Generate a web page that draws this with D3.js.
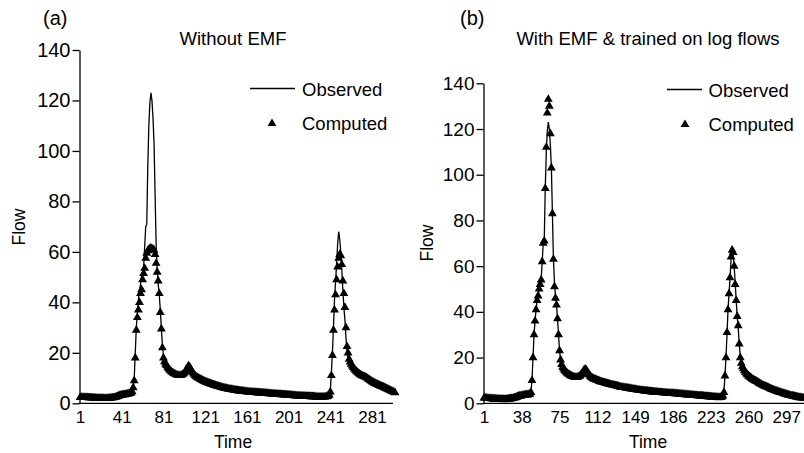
<!DOCTYPE html>
<html>
<head>
<meta charset="utf-8">
<script src="https://cdn.jsdelivr.net/npm/d3@7"></script>
<style>
  html, body { margin: 0; padding: 0; background: #fff; }
  svg { display: block; font-family: "Liberation Sans", Arial, sans-serif; }
</style>
</head>
<body>
<svg id="chart" width="804" height="453"></svg>
<script>
// Observed flow, one shared record. Panel (a) starts at index 0, panel (b) at index 5.
const observed = [
  2.5, 2.4, 2.4, 2.3, 2.4, 2.3, 2.2, 2.3, 2.2, 2.1,
  2.1, 2.0, 2.1, 2.0, 1.9, 1.9, 1.8, 1.9, 1.8, 1.7,
  1.7, 1.6, 1.7, 1.6, 1.6, 1.5, 1.6, 1.6, 1.7, 1.7,
  1.8, 1.9, 1.9, 2.1, 2.2, 2.3, 2.5, 2.6, 2.8, 3.0,
  3.1, 3.3, 3.2, 3.4, 3.6, 3.5, 3.7, 3.9, 3.6, 3.8,
  4.1, 5.2, 10, 20, 30, 36, 41, 45, 47, 50,
  52, 54, 62, 70, 71, 94, 110, 119, 123, 120,
  113, 103, 83, 63, 53, 47, 43, 37, 30, 23,
  19, 17, 16, 15.2, 14.7, 14.1, 13.6, 13.2, 12.8, 12.5,
  12.2, 12.0, 11.8, 11.6, 11.5, 11.3, 11.4, 11.5, 11.8, 12.1,
  12.6, 13.2, 13.9, 14.6, 15.1, 14.5, 13.8, 13.1, 12.4, 11.9,
  11.5, 11.2, 10.9, 10.7, 10.6, 10.3, 10.1, 9.9, 9.8, 9.6,
  9.5, 9.3, 9.2, 9.0, 8.9, 8.8, 8.7, 8.5, 8.4, 8.3,
  8.1, 8.0, 7.9, 7.9, 7.7, 7.6, 7.5, 7.4, 7.3, 7.1,
  7.1, 7.0, 6.9, 6.9, 6.8, 6.7, 6.6, 6.6, 6.5, 6.4,
  6.3, 6.3, 6.2, 6.1, 6.0, 6.0, 5.9, 5.8, 5.7, 5.7,
  5.6, 5.5, 5.5, 5.4, 5.4, 5.3, 5.3, 5.2, 5.2, 5.1,
  5.1, 5.0, 5.0, 5.0, 4.9, 4.9, 4.8, 4.8, 4.8, 4.7,
  4.7, 4.6, 4.6, 4.6, 4.5, 4.5, 4.5, 4.4, 4.4, 4.4,
  4.3, 4.3, 4.3, 4.2, 4.2, 4.2, 4.1, 4.1, 4.0, 4.0,
  3.9, 3.9, 3.8, 3.8, 3.7, 3.7, 3.7, 3.6, 3.6, 3.5,
  3.5, 3.4, 3.4, 3.4, 3.3, 3.3, 3.3, 3.2, 3.2, 3.1,
  3.1, 3.0, 3.0, 3.0, 2.9, 2.9, 2.8, 2.8, 2.8, 2.7,
  2.7, 2.6, 2.6, 2.6, 2.5, 2.5, 2.6, 2.7, 2.9, 3.3,
  5.0, 12, 20, 30, 41, 48, 55, 63, 68, 65,
  60, 53, 45, 38, 33, 26, 21, 17.5, 16.2, 15.2,
  14.4, 13.6, 13.0, 12.5, 12.1, 11.7, 11.3, 11.0, 10.6, 10.2,
  9.8, 9.9, 10.0, 9.7, 9.2, 8.8, 8.5, 8.2, 7.9, 7.7,
  7.5, 7.4, 7.3, 7.0, 6.7, 6.5, 6.3, 6.1, 5.9, 5.8,
  5.6, 5.5, 5.3, 5.1, 5.0, 4.9, 4.7, 4.6, 4.4, 4.3,
  4.1, 4.0, 3.8, 3.7, 3.6, 3.4, 3.3, 3.2, 3.1, 3.0,
  2.9, 2.8, 2.7, 2.6, 2.5, 2.4, 2.3, 2.3, 2.2, 2.1
];

// (a) computed without EMF
const computedA = [
  2.3, 2.4, 2.4, 2.4, 2.3, 2.3, 2.3, 2.3, 2.2, 2.2,
  2.2, 2.2, 2.1, 2.1, 2.1, 2.1, 2.0, 2.0, 2.0, 2.0,
  2.0, 2.0, 2.0, 2.0, 1.9, 1.9, 2.0, 2.0, 2.0, 2.1,
  2.1, 2.2, 2.2, 2.3, 2.4, 2.5, 2.7, 2.8, 3.0, 3.1,
  3.2, 3.3, 3.4, 3.4, 3.5, 3.6, 3.7, 3.8, 3.9, 4.1,
  4.6, 6.2, 9, 18, 29, 34, 37, 40, 43.5, 45,
  49, 51.5, 53.5, 57.5, 59.5, 60.5, 61, 61.3, 61.5, 61.3,
  61, 60.7, 59, 55.5, 52, 48.5, 43.5, 36, 29.5, 22,
  18, 16.5, 15.6, 15.0, 14.3, 13.7, 13.2, 12.8, 12.4, 12.1,
  11.8, 11.6, 11.4, 11.2, 11.1, 11.0, 11.0, 11.1, 11.3, 11.6,
  12.0, 12.6, 13.3, 14.1, 14.8, 14.4, 13.7, 12.9, 12.2, 11.6,
  11.1, 10.7, 10.4, 10.1, 9.9, 9.7, 9.5, 9.2, 9.0, 8.8,
  8.6, 8.4, 8.3, 8.1, 7.9, 7.8, 7.6, 7.5, 7.3, 7.2,
  7.1, 6.9, 6.8, 6.7, 6.6, 6.4, 6.3, 6.2, 6.1, 6.0,
  5.9, 5.8, 5.7, 5.6, 5.5, 5.5, 5.4, 5.3, 5.2, 5.2,
  5.1, 5.0, 5.0, 4.9, 4.9, 4.8, 4.8, 4.7, 4.7, 4.6,
  4.6, 4.5, 4.5, 4.4, 4.4, 4.4, 4.3, 4.3, 4.3, 4.2,
  4.2, 4.2, 4.1, 4.1, 4.1, 4.0, 4.0, 4.0, 3.9, 3.9,
  3.9, 3.8, 3.8, 3.8, 3.7, 3.7, 3.7, 3.6, 3.6, 3.6,
  3.5, 3.5, 3.5, 3.4, 3.4, 3.4, 3.3, 3.3, 3.3, 3.2,
  3.2, 3.2, 3.1, 3.1, 3.1, 3.0, 3.0, 3.0, 2.9, 2.9,
  2.9, 2.9, 2.8, 2.8, 2.8, 2.8, 2.7, 2.7, 2.7, 2.7,
  2.7, 2.6, 2.6, 2.6, 2.6, 2.6, 2.5, 2.5, 2.5, 2.5,
  2.5, 2.5, 2.5, 2.5, 2.5, 2.5, 2.6, 2.7, 2.9, 3.3,
  4.5, 11, 19, 29, 37, 43, 49, 54, 57.5, 59,
  58.5, 55, 48.5, 43.5, 38, 30, 22.5, 20, 17.5, 16.4,
  15.5, 14.8, 14.2, 13.6, 13.1, 12.7, 12.3, 11.9, 11.6, 11.3,
  11.0, 10.8, 10.7, 10.5, 10.3, 10.1, 9.8, 9.5, 9.2, 8.9,
  8.6, 8.4, 8.1, 7.9, 7.7, 7.5, 7.3, 7.1, 6.9, 6.7,
  6.6, 6.4, 6.2, 6.0, 5.8, 5.6, 5.4, 5.2, 5.0, 4.8,
  4.6, 4.4, 4.2
];

// (b) computed with EMF, trained on log flows
const computedB = [
  2.3, 2.3, 2.3, 2.2, 2.2,
  2.1, 2.1, 2.0, 2.0, 1.9, 1.9, 1.9, 1.8, 1.8, 1.8,
  1.7, 1.7, 1.7, 1.7, 1.7, 1.6, 1.7, 1.7, 1.8, 1.8,
  1.9, 2.0, 2.0, 2.1, 2.3, 2.4, 2.5, 2.7, 2.9, 3.0,
  3.2, 3.2, 3.3, 3.5, 3.5, 3.6, 3.8, 3.8, 3.7, 3.9,
  4.0, 4.8, 10, 20, 30, 36, 41, 45, 47, 50,
  52, 54, 62, 70, 71, 94, 112, 127, 133, 130,
  118, 103, 83, 63, 51, 46, 43, 37, 30, 23,
  19, 17, 15.8, 15.0, 14.4, 13.9, 13.4, 13.0, 12.7, 12.4,
  12.1, 11.9, 11.7, 11.5, 11.4, 11.3, 11.3, 11.5, 11.7, 12.0,
  12.5, 13.1, 13.8, 14.5, 15.0, 14.6, 13.9, 13.2, 12.5, 11.9,
  11.4, 11.1, 10.8, 10.6, 10.5, 10.2, 10.0, 9.9, 9.7, 9.5,
  9.4, 9.2, 9.1, 9.0, 8.8, 8.7, 8.6, 8.5, 8.3, 8.2,
  8.1, 8.0, 7.9, 7.8, 7.7, 7.6, 7.5, 7.4, 7.2, 7.1,
  7.0, 7.0, 6.9, 6.8, 6.7, 6.7, 6.6, 6.5, 6.4, 6.4,
  6.3, 6.2, 6.1, 6.1, 6.0, 5.9, 5.8, 5.8, 5.7, 5.6,
  5.6, 5.5, 5.4, 5.4, 5.3, 5.3, 5.2, 5.2, 5.1, 5.1,
  5.0, 5.0, 4.9, 4.9, 4.9, 4.8, 4.8, 4.7, 4.7, 4.7,
  4.6, 4.6, 4.6, 4.5, 4.5, 4.5, 4.4, 4.4, 4.4, 4.3,
  4.3, 4.3, 4.2, 4.2, 4.2, 4.1, 4.1, 4.0, 4.0, 4.0,
  3.9, 3.9, 3.8, 3.8, 3.8, 3.7, 3.7, 3.6, 3.6, 3.5,
  3.5, 3.5, 3.4, 3.4, 3.3, 3.3, 3.3, 3.2, 3.2, 3.1,
  3.1, 3.0, 3.0, 3.0, 2.9, 2.9, 2.9, 2.8, 2.8, 2.7,
  2.7, 2.7, 2.6, 2.6, 2.6, 2.5, 2.6, 2.7, 2.8, 3.2,
  4.8, 12, 20, 31, 41, 48, 55, 64, 67, 66,
  60, 52, 45, 38, 34, 26, 20, 17.5, 16, 15.1,
  14.3, 13.6, 13.0, 12.5, 12.0, 11.6, 11.3, 10.9, 10.6, 10.3,
  10.0, 9.8, 9.6, 9.3, 9.0, 8.7, 8.5, 8.2, 7.9, 7.7,
  7.5, 7.4, 7.2, 7.0, 6.8, 6.5, 6.3, 6.1, 5.9, 5.8,
  5.6, 5.4, 5.3, 5.1, 5.0, 4.8, 4.7, 4.5, 4.4, 4.2,
  4.1, 3.9, 3.8, 3.7, 3.5, 3.4, 3.3, 3.2, 3.1, 3.0,
  2.9, 2.8, 2.7, 2.6, 2.5, 2.5, 2.4, 2.3, 2.3, 2.2
];

const ticksA = [1, 41, 81, 121, 161, 201, 241, 281];
const ticksB = [1, 38, 75, 112, 149, 186, 223, 260, 297];
const flowTicks = [0, 20, 40, 60, 80, 100, 120, 140];
const legendNames = ['Observed', 'Computed'];

(function () {
  const svg = d3.select('#chart');
  svg.append('rect').attr('width', 804).attr('height', 453).attr('fill', '#fff');

  const tri = d3.symbol().type(d3.symbolTriangle).size(34);

  const panels = [
    {
      tag: '(a)', title: 'Without EMF', computed: computedA, offset: 0, ticks: ticksA,
      x0: 80, step: 1.043, axisEnd: 393, yTop: 50, yFont: 20,
      tagX: 43, titleX: 233, flowX: 25, flowY: 227,
      legX: 250, legLen: 45, legTri: 22, legText: 52, legY: 88.5
    },
    {
      tag: '(b)', title: 'With EMF & trained on log flows', computed: computedB, offset: 5, ticks: ticksB,
      x0: 484, step: 1.021, axisEnd: 804, yTop: 83.3, yFont: 19,
      tagX: 460, titleX: 648, flowX: 433, flowY: 243,
      legX: 667, legLen: 35, legTri: 18, legText: 41.5, legY: 89.5
    }
  ];

  panels.forEach(p => {
    const n = p.computed.length;
    const obs = observed.slice(p.offset, p.offset + n);
    const series = obs.map((v, i) => ({ t: i + 1, obs: v, comp: p.computed[i] }));

    const x = d3.scaleLinear().domain([1, n]).range([p.x0, p.x0 + (n - 1) * p.step]);
    const y = d3.scaleLinear().domain([0, 140]).range([403.3, p.yTop]);

    const g = svg.append('g');

    // y axis
    const yAxis = g.append('g')
      .attr('transform', `translate(${p.x0 - 0.5},0)`)
      .call(d3.axisLeft(y).tickValues(flowTicks).tickSize(7).tickSizeOuter(0).tickPadding(2));
    yAxis.selectAll('path, line').attr('stroke', '#000').attr('stroke-width', 1.3);
    yAxis.selectAll('text').attr('font-size', p.yFont).attr('fill', '#000')
      .attr('font-family', '"Liberation Sans", Arial, sans-serif');

    // x axis
    const xAxis = g.append('g')
      .attr('transform', `translate(0,${y(0)})`)
      .call(d3.axisBottom(x).tickValues(p.ticks).tickFormat(d3.format('d')).tickSize(0).tickPadding(8));
    xAxis.select('.domain').remove();
    xAxis.selectAll('text').attr('font-size', 17).attr('fill', '#000')
      .attr('font-family', '"Liberation Sans", Arial, sans-serif');
    xAxis.append('line')
      .attr('x1', p.x0 - 1).attr('x2', p.axisEnd)
      .attr('stroke', '#000').attr('stroke-width', 1.3);

    // observed line
    g.append('path')
      .datum(series)
      .attr('fill', 'none')
      .attr('stroke', '#000')
      .attr('stroke-width', 1.3)
      .attr('d', d3.line().x(d => x(d.t)).y(d => y(d.obs)));

    // computed triangles
    g.append('g').selectAll('path')
      .data(series)
      .join('path')
      .attr('d', tri)
      .attr('fill', '#000')
      .attr('transform', d => `translate(${x(d.t)},${y(d.comp)})`);

    // labels
    g.append('text').attr('x', p.tagX).attr('y', 25).attr('font-size', 20).text(p.tag);
    g.append('text').attr('x', p.titleX).attr('y', 45).attr('font-size', 18.5)
      .attr('text-anchor', 'middle').text(p.title);
    g.append('text').attr('x', p.titleX).attr('y', 448).attr('font-size', 17.5)
      .attr('text-anchor', 'middle').text('Time');
    g.append('text')
      .attr('transform', `translate(${p.flowX},${p.flowY}) rotate(-90)`)
      .attr('font-size', 17.5).attr('text-anchor', 'middle').text('Flow');

    // legend
    const leg = g.append('g').attr('transform', `translate(${p.legX},${p.legY})`);
    leg.append('line').attr('x1', 0).attr('x2', p.legLen)
      .attr('stroke', '#000').attr('stroke-width', 1.3);
    leg.append('path').attr('d', tri).attr('fill', '#000')
      .attr('transform', `translate(${p.legTri},35)`);
    leg.selectAll('text.leg')
      .data(legendNames)
      .join('text')
      .attr('class', 'leg')
      .attr('x', p.legText)
      .attr('y', (d, i) => i * 34 + 7)
      .attr('font-size', 18.5)
      .text(d => d);
  });
})();
</script>
</body>
</html>
